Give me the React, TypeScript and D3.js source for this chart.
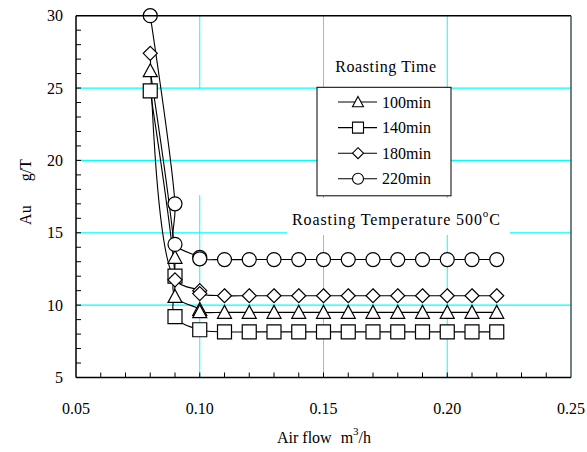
import React, { useRef, useEffect } from 'react';
import * as d3 from 'd3';

// roasting time series
const airflow100 = [0.08, 0.09, 0.09, 0.10, 0.10, 0.11, 0.12, 0.13, 0.14, 0.15, 0.16, 0.17, 0.18, 0.19, 0.20, 0.21, 0.22];
const au100 = [26.2, 13.3, 10.6, 9.7, 9.55, 9.5, 9.5, 9.5, 9.5, 9.5, 9.5, 9.5, 9.5, 9.5, 9.5, 9.5, 9.5];

const airflow140 = [0.08, 0.09, 0.09, 0.10, 0.11, 0.12, 0.13, 0.14, 0.15, 0.16, 0.17, 0.18, 0.19, 0.20, 0.21, 0.22];
const au140 = [24.8, 12.0, 9.2, 8.3, 8.15, 8.15, 8.15, 8.15, 8.15, 8.15, 8.15, 8.15, 8.15, 8.15, 8.15, 8.15];

const airflow180 = [0.08, 0.09, 0.10, 0.10, 0.11, 0.12, 0.13, 0.14, 0.15, 0.16, 0.17, 0.18, 0.19, 0.20, 0.21, 0.22];
const au180 = [27.4, 11.75, 11.0, 10.8, 10.65, 10.65, 10.65, 10.65, 10.65, 10.65, 10.65, 10.65, 10.65, 10.65, 10.65, 10.65];

const airflow220 = [0.08, 0.09, 0.09, 0.10, 0.10, 0.11, 0.12, 0.13, 0.14, 0.15, 0.16, 0.17, 0.18, 0.19, 0.20, 0.21, 0.22];
const au220 = [30, 17.0, 14.2, 13.3, 13.2, 13.15, 13.15, 13.15, 13.15, 13.15, 13.15, 13.15, 13.15, 13.15, 13.15, 13.15, 13.15];

const seriesNames = ['100min', '140min', '180min', '220min'];
const seriesShapes = ['triangle', 'square', 'diamond', 'circle'];

const xTicks = [0.05, 0.10, 0.15, 0.20, 0.25];
const yTicks = [5, 10, 15, 20, 25, 30];
const xGrid = [0.10, 0.15, 0.20];
const yGrid = [10, 15, 20, 25];

const FONT = "'Liberation Serif', 'DejaVu Serif', serif";

const markerPath = (shape: string, r: number) => {
  if (shape === 'triangle') return `M0,${-r}L${r},${r * 0.85}L${-r},${r * 0.85}Z`;
  if (shape === 'square') return `M${-r},${-r}H${r}V${r}H${-r}Z`;
  if (shape === 'diamond') return `M0,${-r}L${r},0L0,${r}L${-r},0Z`;
  return `M${r},0A${r},${r} 0 1,1 ${-r},0A${r},${r} 0 1,1 ${r},0Z`;
};

const App = () => {
  const svgRef = useRef<SVGSVGElement>(null);

  useEffect(() => {
    const width = 587;
    const height = 452;
    const margin = { top: 15.7, right: 16, bottom: 74.5, left: 76 };

    const svg = d3.select(svgRef.current);
    svg.selectAll('*').remove();

    const x = d3.scaleLinear().domain([0.05, 0.25]).range([margin.left, width - margin.right]);
    const y = d3.scaleLinear().domain([5, 30]).range([height - margin.bottom, margin.top]);

    const grid = svg.append('g');
    grid.selectAll('line.vx')
      .data(xGrid)
      .join('line')
      .attr('x1', d => x(d)).attr('x2', d => x(d))
      .attr('y1', y(30)).attr('y2', y(5))
      .attr('stroke', '#00ffff').attr('stroke-width', 1);

    // blank patch over the 0.10 gridline (hidden box in the original)
    grid.append('rect')
      .attr('x', x(0.095)).attr('width', x(0.105) - x(0.095))
      .attr('y', y(25) + 1).attr('height', y(17.6) - y(25) - 1)
      .attr('fill', '#fff');

    grid.selectAll('line.hy')
      .data(yGrid)
      .join('line')
      .attr('x1', x(0.05)).attr('x2', x(0.25))
      .attr('y1', d => y(d)).attr('y2', d => y(d))
      .attr('stroke', '#00ffff').attr('stroke-width', 1.2);

    // Roasting temperature label with white background
    const tempG = svg.append('g');
    tempG.append('rect')
      .attr('x', 287).attr('y', 198).attr('width', 223).attr('height', 37)
      .attr('fill', '#fff');
    const tempText = tempG.append('text')
      .attr('x', 292).attr('y', 225)
      .style('font-family', FONT).attr('font-size', 16)
      .attr('letter-spacing', 0.9)
      .attr('fill', '#000');
    tempText.append('tspan').text('Roasting Temperature 500');
    tempText.append('tspan').attr('font-size', 11).attr('dy', -8).text('o');
    tempText.append('tspan').attr('dy', 8).text('C');

    // series
    const series = [
      { xs: airflow100, ys: au100 },
      { xs: airflow140, ys: au140 },
      { xs: airflow180, ys: au180 },
      { xs: airflow220, ys: au220 },
    ];

    const line = d3.line<[number, number]>()
      .x(d => x(d[0]))
      .y(d => y(d[1]))
      .curve(d3.curveCatmullRom.alpha(0.5));

    series.forEach(s => {
      const pts = s.xs.map((v, i) => [v, s.ys[i]] as [number, number]);
      svg.append('path')
        .datum(pts)
        .attr('fill', 'none')
        .attr('stroke', '#000')
        .attr('stroke-width', 1.1)
        .attr('d', line);
    });

    series.forEach((s, si) => {
      const pts = s.xs.map((v, i) => [v, s.ys[i]] as [number, number]);
      svg.append('g')
        .selectAll('path')
        .data(pts)
        .join('path')
        .attr('transform', d => `translate(${x(d[0])},${y(d[1])})`)
        .attr('d', markerPath(seriesShapes[si], 7))
        .attr('fill', '#fff')
        .attr('stroke', '#000')
        .attr('stroke-width', 1.2);
    });

    // legend
    const legend = svg.append('g');
    legend.append('text')
      .attr('x', 386).attr('y', 72)
      .attr('text-anchor', 'middle')
      .style('font-family', FONT).attr('font-size', 16)
      .attr('letter-spacing', 0.6)
      .text('Roasting Time');
    legend.append('rect')
      .attr('x', 317).attr('y', 87.3).attr('width', 134).attr('height', 108.5)
      .attr('fill', '#fff').attr('stroke', '#000').attr('stroke-width', 1);
    seriesNames.forEach((name, i) => {
      const cy = 102 + i * 25.6;
      legend.append('line')
        .attr('x1', 338).attr('x2', 377).attr('y1', cy).attr('y2', cy)
        .attr('stroke', '#000').attr('stroke-width', 1.1);
      legend.append('path')
        .attr('transform', `translate(358,${cy})`)
        .attr('d', markerPath(seriesShapes[i], 5.5))
        .attr('fill', '#fff').attr('stroke', '#000').attr('stroke-width', 1.1);
      legend.append('text')
        .attr('x', 382).attr('y', cy + 5.5)
        .style('font-family', FONT).attr('font-size', 16)
        .text(name);
    });

    // minor ticks (inside)
    const ticks = svg.append('g').attr('stroke', '#000').attr('stroke-width', 1);
    ticks.selectAll('line.yt')
      .data(d3.range(6, 30))
      .join('line')
      .attr('x1', x(0.05)).attr('x2', x(0.05) + 5)
      .attr('y1', d => y(d)).attr('y2', d => y(d));
    ticks.selectAll('line.xt')
      .data(d3.range(6, 25).map(d => d / 100))
      .join('line')
      .attr('x1', d => x(d)).attr('x2', d => x(d))
      .attr('y1', y(5)).attr('y2', y(5) - 5);

    // frame
    svg.append('line')
      .attr('x1', x(0.05)).attr('x2', x(0.25)).attr('y1', y(30)).attr('y2', y(30))
      .attr('stroke', '#000').attr('stroke-width', 1.5);
    svg.append('line')
      .attr('x1', x(0.25)).attr('x2', x(0.25)).attr('y1', y(30)).attr('y2', y(5))
      .attr('stroke', '#3d5a5a').attr('stroke-width', 1.5);
    svg.append('line')
      .attr('x1', x(0.05)).attr('x2', x(0.25)).attr('y1', y(5)).attr('y2', y(5))
      .attr('stroke', '#000').attr('stroke-width', 1.5);
    svg.append('line')
      .attr('x1', x(0.05)).attr('x2', x(0.05)).attr('y1', y(30)).attr('y2', y(5))
      .attr('stroke', '#000').attr('stroke-width', 1.5);

    // tick labels
    svg.append('g')
      .selectAll('text')
      .data(xTicks)
      .join('text')
      .attr('x', d => x(d)).attr('y', 414)
      .attr('text-anchor', 'middle')
      .style('font-family', FONT).attr('font-size', 16)
      .text(d => d3.format('.2f')(d));
    svg.append('g')
      .selectAll('text')
      .data(yTicks)
      .join('text')
      .attr('x', 63).attr('y', d => y(d) + 5.5)
      .attr('text-anchor', 'end')
      .style('font-family', FONT).attr('font-size', 16)
      .text(d => d);

    // axis titles
    const xt = svg.append('text')
      .attr('x', 324).attr('y', 443)
      .attr('text-anchor', 'middle')
      .style('font-family', FONT).attr('font-size', 16);
    xt.append('tspan').text('Air flow');
    xt.append('tspan').attr('dx', 9).text('m');
    xt.append('tspan').attr('font-size', 11).attr('dy', -8).text('3');
    xt.append('tspan').attr('dy', 8).text('/h');

    const yt = svg.append('text')
      .attr('transform', 'translate(31,192) rotate(-90)')
      .attr('text-anchor', 'middle')
      .style('font-family', FONT).attr('font-size', 16);
    yt.append('tspan').text('Au');
    yt.append('tspan').attr('dx', 24).text('g/T');
  }, []);

  return (
    <svg
      ref={svgRef}
      width={587}
      height={452}
      style={{ position: 'absolute', left: 0, top: 0, background: '#fff' }}
    />
  );
};

export default App;
